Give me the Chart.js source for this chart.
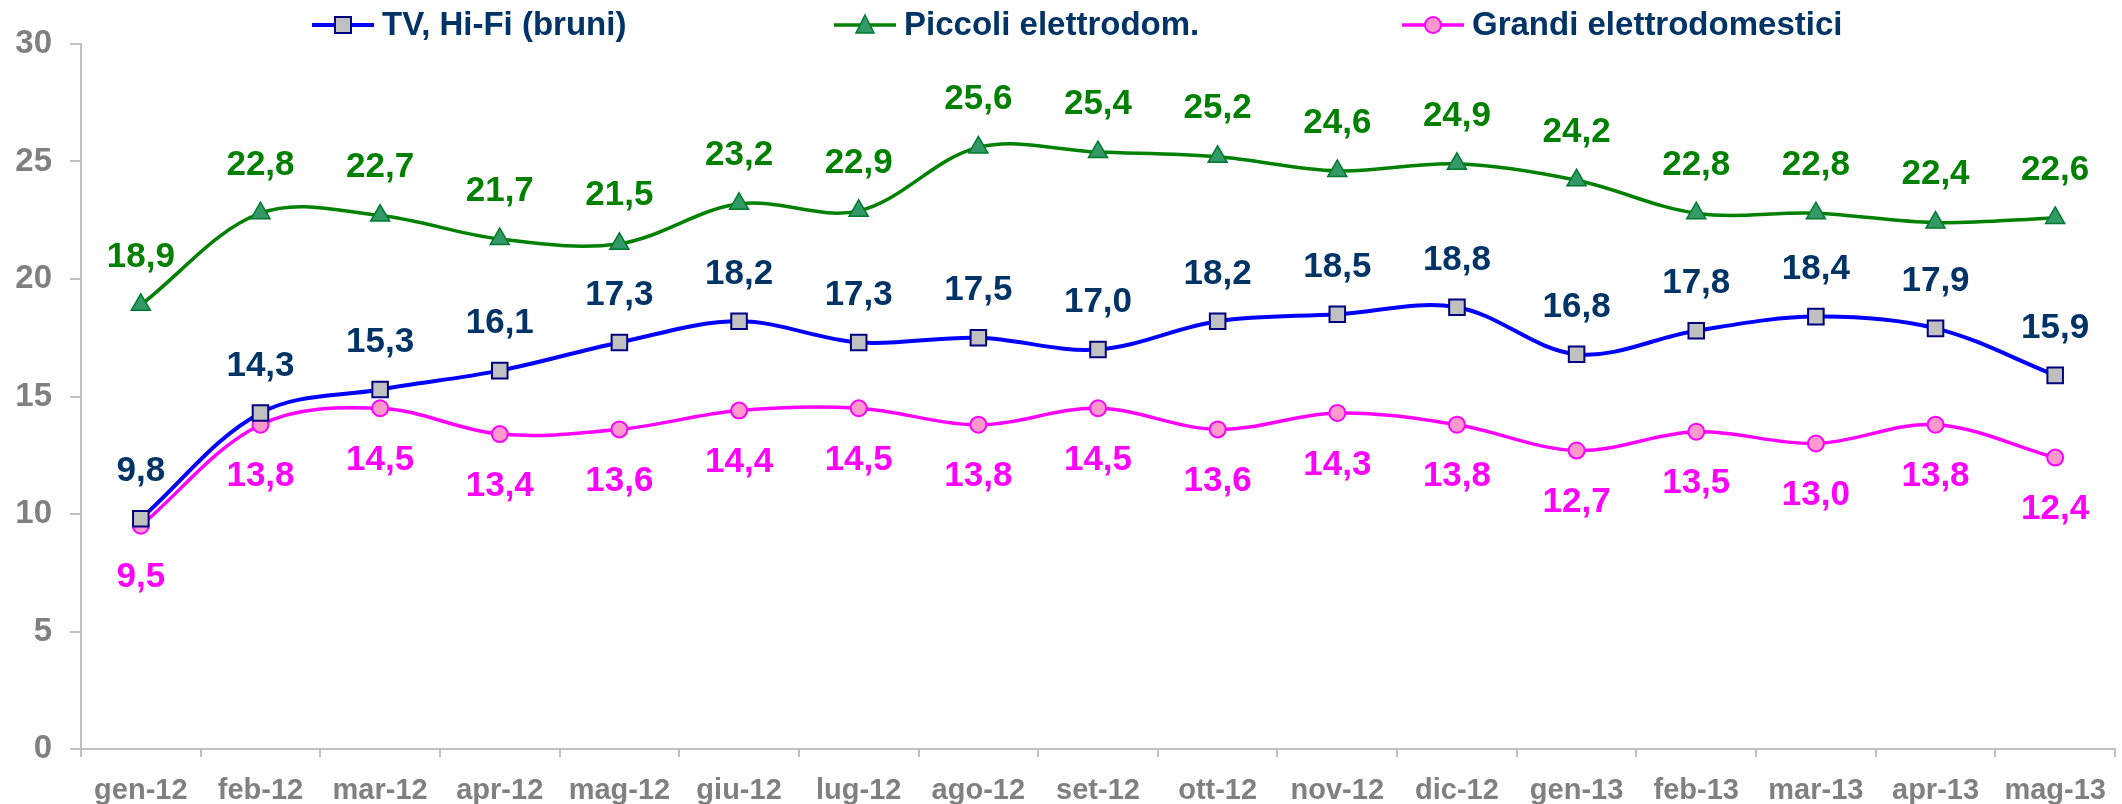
<!DOCTYPE html>
<html>
<head>
<meta charset="utf-8">
<script src="https://cdn.jsdelivr.net/npm/chart.js@4.4.1/dist/chart.umd.min.js"></script>
<style>
  html, body { margin: 0; padding: 0; background: #ffffff; overflow: hidden; }
  #wrap { width: 2128px; height: 804px; }
</style>
</head>
<body>
<div id="wrap"><canvas id="c" width="2128" height="804"></canvas></div>
<script>
// ---- data ----
const categories = ['gen-12','feb-12','mar-12','apr-12','mag-12','giu-12','lug-12','ago-12','set-12','ott-12','nov-12','dic-12','gen-13','feb-13','mar-13','apr-13','mag-13'];
const tvHiFi   = [9.8, 14.3, 15.3, 16.1, 17.3, 18.2, 17.3, 17.5, 17.0, 18.2, 18.5, 18.8, 16.8, 17.8, 18.4, 17.9, 15.9];
const piccoli  = [18.9, 22.8, 22.7, 21.7, 21.5, 23.2, 22.9, 25.6, 25.4, 25.2, 24.6, 24.9, 24.2, 22.8, 22.8, 22.4, 22.6];
const grandi   = [9.5, 13.8, 14.5, 13.4, 13.6, 14.4, 14.5, 13.8, 14.5, 13.6, 14.3, 13.8, 12.7, 13.5, 13.0, 13.8, 12.4];
const seriesNames = ['TV, Hi-Fi (bruni)', 'Piccoli elettrodom.', 'Grandi elettrodomestici'];
const yTicks = [0, 5, 10, 15, 20, 25, 30];

const FONT = '"Liberation Sans", Arial, Helvetica, sans-serif';
Chart.defaults.font.family = FONT;

const styles = [
  { line: '#0000FF', fill: '#C0C0C0', border: '#000080', style: 'rect', r: 11, bw: 2, lw: 4, label: '#003366', dy: -47 },
  { line: '#008000', fill: '#339966', border: '#007A2E', style: 'triangle', r: 11, bw: 1.5, lw: 3.5, label: '#008000', dy: -48 },
  { line: '#FF00FF', fill: '#FF99CC', border: '#FF00FF', style: 'circle', r: 8, bw: 2, lw: 3.5, label: '#FF00FF', dy: 52 }
];
const seriesData = [tvHiFi, piccoli, grandi];
const legendX = [312, 834, 1402];

const datasets = seriesData.map((d, i) => ({
  label: seriesNames[i],
  data: d,
  borderColor: styles[i].line,
  borderWidth: styles[i].lw,
  backgroundColor: styles[i].fill,
  pointStyle: styles[i].style,
  pointRadius: styles[i].r,
  pointBackgroundColor: styles[i].fill,
  pointBorderColor: styles[i].border,
  pointBorderWidth: styles[i].bw,
  tension: 0.35,
  fill: false
}));

const labelPlugin = {
  id: 'valueLabels',
  afterDatasetsDraw(chart) {
    const ctx = chart.ctx;
    ctx.save();
    ctx.font = 'bold 35px ' + FONT;
    ctx.textAlign = 'center';
    ctx.textBaseline = 'middle';
    chart.data.datasets.forEach((ds, i) => {
      const meta = chart.getDatasetMeta(i);
      ctx.fillStyle = styles[i].label;
      meta.data.forEach((pt, j) => {
        const txt = ds.data[j].toFixed(1).replace('.', ',');
        ctx.fillText(txt, pt.x, pt.y + styles[i].dy);
      });
    });
    ctx.restore();
  }
};

const legendPlugin = {
  id: 'customLegend',
  afterDraw(chart) {
    const ctx = chart.ctx;
    ctx.save();
    ctx.font = 'bold 33px ' + FONT;
    ctx.textBaseline = 'middle';
    ctx.textAlign = 'left';
    const y = 25;
    seriesNames.forEach((name, i) => {
      const s = styles[i];
      const x = legendX[i];
      ctx.strokeStyle = s.line;
      ctx.lineWidth = s.lw;
      ctx.beginPath();
      ctx.moveTo(x, y);
      ctx.lineTo(x + 62, y);
      ctx.stroke();
      const cx = x + 31;
      ctx.fillStyle = s.fill;
      ctx.strokeStyle = s.border;
      ctx.lineWidth = s.bw;
      ctx.beginPath();
      if (s.style === 'rect') {
        ctx.rect(cx - 8, y - 8, 16, 16);
      } else if (s.style === 'triangle') {
        ctx.moveTo(cx, y - 10);
        ctx.lineTo(cx + 9, y + 8);
        ctx.lineTo(cx - 9, y + 8);
        ctx.closePath();
      } else {
        ctx.arc(cx, y, 8, 0, Math.PI * 2);
      }
      ctx.fill();
      ctx.stroke();
      ctx.fillStyle = '#003366';
      ctx.fillText(name, x + 70, y + 1);
    });
    ctx.restore();
  }
};

new Chart(document.getElementById('c'), {
  type: 'line',
  data: { labels: categories, datasets },
  options: {
    responsive: false,
    animation: false,
    devicePixelRatio: 1,
    layout: { padding: { top: 44, right: 2, left: 0, bottom: 0 } },
    plugins: { legend: { display: false }, tooltip: { enabled: false } },
    scales: {
      x: {
        type: 'category',
        offset: true,
        grid: { offset: true, drawOnChartArea: false, drawTicks: true, tickLength: 8, color: '#C0C0C0', lineWidth: 2 },
        border: { display: true, color: '#C0C0C0', width: 2 },
        ticks: { color: '#808080', font: { size: 29, weight: 'bold' }, padding: 17, maxRotation: 0, autoSkip: false },
        afterFit(scale) { scale.height = 55; }
      },
      y: {
        min: 0, max: 30,
        afterBuildTicks(scale) { scale.ticks = yTicks.map(v => ({ value: v })); },
        grid: { drawOnChartArea: false, drawTicks: true, tickLength: 11, color: '#C0C0C0', lineWidth: 2 },
        border: { display: true, color: '#C0C0C0', width: 2 },
        ticks: { color: '#808080', font: { size: 33, weight: 'bold' }, padding: 18 },
        afterFit(scale) { scale.width = 81; }
      }
    }
  },
  plugins: [labelPlugin, legendPlugin]
});
</script>
</body>
</html>
